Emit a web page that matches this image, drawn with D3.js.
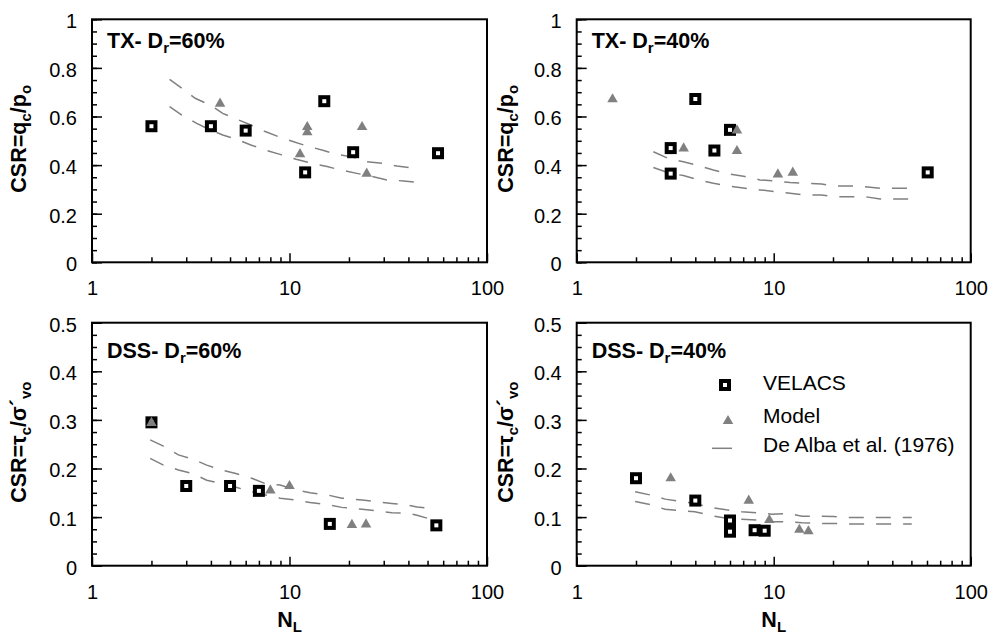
<!DOCTYPE html>
<html>
<head>
<meta charset="utf-8">
<script src="https://cdn.jsdelivr.net/npm/d3@7"></script>
<style>
  html, body { margin: 0; padding: 0; background: #fff; }
  svg { display: block; font-family: "Liberation Sans", Arial, sans-serif; }
</style>
</head>
<body>
<svg id="chart" width="989" height="635"></svg>
<script>
// ---------------- DATA ----------------
// Panel A: TX, Dr = 60%
const txA_velacsN   = [2, 4, 6, 12, 15, 21, 56.5];
const txA_velacsCSR = [0.56, 0.56, 0.542, 0.37, 0.663, 0.453, 0.449];
const txA_modelN    = [4.45, 11.3, 12.3, 12.3, 23.3, 24.6];
const txA_modelCSR  = [0.657, 0.449, 0.561, 0.539, 0.561, 0.369];
const txA_upperN    = [2.47, 2.85, 3.33, 3.96, 4.59, 5.45, 6.37, 7.53, 8.8, 10.4, 12.2, 14.9, 17.4, 21.1, 24.6, 29.9, 35.0, 43.3];
const txA_upperCSR  = [0.753, 0.716, 0.675, 0.647, 0.613, 0.588, 0.565, 0.538, 0.517, 0.497, 0.479, 0.46, 0.444, 0.432, 0.414, 0.407, 0.396, 0.387];
const txA_lowerN    = [2.47, 2.85, 3.39, 3.96, 4.59, 5.52, 6.37, 7.68, 9.14, 10.8, 13.0, 15.5, 18.1, 21.9, 25.6, 31.1, 37.8, 45.1];
const txA_lowerCSR  = [0.641, 0.606, 0.572, 0.545, 0.524, 0.503, 0.483, 0.46, 0.442, 0.424, 0.407, 0.394, 0.38, 0.366, 0.355, 0.339, 0.335, 0.328];

// Panel B: TX, Dr = 40%
const txB_velacsN   = [3, 3, 4, 5, 6, 60.5];
const txB_velacsCSR = [0.47, 0.365, 0.672, 0.46, 0.545, 0.37];
const txB_modelN    = [1.52, 3.49, 6.51, 6.51, 10.5, 12.5];
const txB_modelCSR  = [0.675, 0.473, 0.547, 0.462, 0.366, 0.373];
const txB_upperN    = [2.45, 2.98, 3.48, 4.15, 4.94, 5.89, 7.15, 8.52, 10.2, 12.1, 14.4, 17.5, 20.5, 24.9, 29.1, 34.7, 42.1, 50.2];
const txB_upperCSR  = [0.455, 0.424, 0.414, 0.398, 0.38, 0.364, 0.353, 0.339, 0.335, 0.328, 0.325, 0.322, 0.314, 0.314, 0.311, 0.305, 0.305, 0.305];
const txB_lowerN    = [2.45, 2.98, 3.48, 4.15, 4.94, 5.89, 7.15, 8.52, 10.2, 12.1, 14.4, 17.5, 20.5, 24.9, 29.1, 34.7, 42.1, 50.2];
const txB_lowerCSR  = [0.39, 0.366, 0.357, 0.339, 0.325, 0.314, 0.305, 0.298, 0.291, 0.284, 0.277, 0.277, 0.27, 0.27, 0.27, 0.261, 0.261, 0.261];

// Panel C: DSS, Dr = 60%
const dssC_velacsN   = [2, 3, 5, 7, 16, 55.4];
const dssC_velacsCSR = [0.295, 0.164, 0.164, 0.154, 0.086, 0.083];
const dssC_modelN    = [2, 8, 10, 20.7, 24.4];
const dssC_modelCSR  = [0.296, 0.157, 0.166, 0.086, 0.087];
const dssC_upperN    = [1.97, 2.3, 2.74, 3.26, 3.81, 4.54, 5.41, 6.44, 7.53, 8.97, 10.7, 12.7, 15.8, 18.4, 23.3, 27.2, 33.0, 39.3, 44.2, 50.6];
const dssC_upperCSR  = [0.259, 0.246, 0.228, 0.219, 0.207, 0.197, 0.189, 0.18, 0.169, 0.166, 0.156, 0.15, 0.145, 0.139, 0.135, 0.132, 0.128, 0.125, 0.121, 0.118];
const dssC_lowerN    = [1.97, 2.3, 2.74, 3.26, 3.81, 4.54, 5.41, 6.44, 7.68, 8.97, 10.7, 12.7, 15.8, 18.4, 23.3, 27.2, 33.0, 39.3, 44.2, 50.6];
const dssC_lowerCSR  = [0.221, 0.207, 0.197, 0.189, 0.176, 0.169, 0.161, 0.152, 0.145, 0.139, 0.135, 0.13, 0.125, 0.12, 0.116, 0.113, 0.109, 0.108, 0.104, 0.097];

// Panel D: DSS, Dr = 40%
const dssD_velacsN   = [2, 4, 6, 6, 8, 9];
const dssD_velacsCSR = [0.18, 0.134, 0.093, 0.07, 0.073, 0.072];
const dssD_modelN    = [3, 7.47, 9.5, 13.5, 15.0];
const dssD_modelCSR  = [0.182, 0.136, 0.096, 0.076, 0.073];
const dssD_upperN    = [1.98, 2.4, 2.81, 3.41, 3.98, 4.75, 5.73, 6.88, 8.2, 9.77, 11.9, 13.9, 16.8, 20.1, 24.4, 29.0, 34.7, 42.1, 50.2];
const dssD_upperCSR  = [0.152, 0.145, 0.137, 0.132, 0.128, 0.12, 0.115, 0.111, 0.109, 0.106, 0.107, 0.102, 0.102, 0.101, 0.099, 0.099, 0.099, 0.099, 0.099];
const dssD_lowerN    = [1.98, 2.4, 2.81, 3.41, 3.98, 4.84, 5.77, 6.88, 8.2, 9.77, 11.9, 13.9, 16.8, 20.1, 24.4, 29.0, 34.7, 42.1, 50.2];
const dssD_lowerCSR  = [0.132, 0.125, 0.116, 0.113, 0.111, 0.103, 0.0975, 0.0955, 0.094, 0.0905, 0.0905, 0.0885, 0.087, 0.087, 0.086, 0.086, 0.086, 0.086, 0.086];

// Tick labels
const xTickValues = [1, 10, 100];
const xMinorValues = [2, 3, 4, 5, 6, 7, 8, 9, 20, 30, 40, 50, 60, 70, 80, 90];
const txYTicks = [0, 0.2, 0.4, 0.6, 0.8, 1];
const dssYTicks = [0, 0.1, 0.2, 0.3, 0.4, 0.5];

// Legend
const legendLabels = ["VELACS", "Model", "De Alba et al. (1976)"];

// ---------------- DRAWING ----------------
const svg = d3.select("#chart");
const GRAY = "#808080";
const FONT = "Liberation Sans, Arial, sans-serif";

const panels = [
  { left: 92, right: 487, top: 19.3, bottom: 262.3, ymax: 1, yMajor: txYTicks, yStep: 0.05,
    fmt: d => d === 0 || d === 1 ? String(d) : d.toFixed(1),
    vN: txA_velacsN, vC: txA_velacsCSR, mN: txA_modelN, mC: txA_modelCSR,
    curves: [[txA_upperN, txA_upperCSR], [txA_lowerN, txA_lowerCSR]],
    title: ["TX- D", "r", "=60%"], titleX: 107, titleY: 47.7, ylab: "tx", ylabX: 26, xlab: false },
  { left: 576.7, right: 970.7, top: 19.3, bottom: 262.3, ymax: 1, yMajor: txYTicks, yStep: 0.05,
    fmt: d => d === 0 || d === 1 ? String(d) : d.toFixed(1),
    vN: txB_velacsN, vC: txB_velacsCSR, mN: txB_modelN, mC: txB_modelCSR,
    curves: [[txB_upperN, txB_upperCSR], [txB_lowerN, txB_lowerCSR]],
    title: ["TX- D", "r", "=40%"], titleX: 591.7, titleY: 47.7, ylab: "tx", ylabX: 513, xlab: false },
  { left: 92, right: 487, top: 322.7, bottom: 565.7, ymax: 0.5, yMajor: dssYTicks, yStep: 0.025,
    fmt: d => d === 0 ? "0" : d.toFixed(1),
    vN: dssC_velacsN, vC: dssC_velacsCSR, mN: dssC_modelN, mC: dssC_modelCSR,
    curves: [[dssC_upperN, dssC_upperCSR], [dssC_lowerN, dssC_lowerCSR]],
    title: ["DSS- D", "r", "=60%"], titleX: 107, titleY: 357.5, ylab: "dss", ylabX: 26, xlab: true },
  { left: 576.7, right: 970.7, top: 322.7, bottom: 565.7, ymax: 0.5, yMajor: dssYTicks, yStep: 0.025,
    fmt: d => d === 0 ? "0" : d.toFixed(1),
    vN: dssD_velacsN, vC: dssD_velacsCSR, mN: dssD_modelN, mC: dssD_modelCSR,
    curves: [[dssD_upperN, dssD_upperCSR], [dssD_lowerN, dssD_lowerCSR]],
    title: ["DSS- D", "r", "=40%"], titleX: 591.7, titleY: 358, ylab: "dss", ylabX: 513, xlab: true, legend: true }
];

const triangle = d3.symbol().type(d3.symbolTriangle).size(48);

panels.forEach(p => {
  const x = d3.scaleLog().domain([1, 100]).range([p.left, p.right]);
  const y = d3.scaleLinear().domain([0, p.ymax]).range([p.bottom, p.top]);
  const g = svg.append("g");

  // minor y ticks
  const nMinor = Math.round(p.ymax / p.yStep);
  const yMinor = d3.range(0, nMinor + 1).map(i => +(i * p.yStep).toFixed(4));
  const yMinorAxis = d3.axisLeft(y).tickValues(yMinor).tickSize(-5).tickFormat("");
  g.append("g").attr("transform", `translate(${p.left},0)`).call(yMinorAxis)
    .call(a => a.select(".domain").remove())
    .call(a => a.selectAll("line").attr("stroke", "#000").attr("stroke-width", 1.5));

  // major y ticks + labels
  const yAxis = d3.axisLeft(y).tickValues(p.yMajor).tickSize(-10).tickPadding(15).tickFormat(p.fmt);
  g.append("g").attr("transform", `translate(${p.left},0)`).call(yAxis)
    .call(a => a.select(".domain").remove())
    .call(a => a.selectAll("line").attr("stroke", "#000").attr("stroke-width", 1.5))
    .call(a => a.selectAll("text").attr("font-size", 20).attr("fill", "#000")
      .attr("font-family", FONT).attr("dy", "0.42em"));

  // minor x ticks
  const xMinorAxis = d3.axisBottom(x).tickValues(xMinorValues).tickSize(-5).tickFormat("");
  g.append("g").attr("transform", `translate(0,${p.bottom})`).call(xMinorAxis)
    .call(a => a.select(".domain").remove())
    .call(a => a.selectAll("line").attr("stroke", "#000").attr("stroke-width", 1.5));

  // major x ticks + labels
  const xAxis = d3.axisBottom(x).tickValues(xTickValues).tickSize(-9).tickPadding(19).tickFormat(d3.format("d"));
  g.append("g").attr("transform", `translate(0,${p.bottom})`).call(xAxis)
    .call(a => a.select(".domain").remove())
    .call(a => a.selectAll("line").attr("stroke", "#000").attr("stroke-width", 1.5))
    .call(a => a.selectAll("text").attr("font-size", 20).attr("fill", "#000")
      .attr("font-family", FONT));

  // frame
  g.append("rect").attr("x", p.left).attr("y", p.top)
    .attr("width", p.right - p.left).attr("height", p.bottom - p.top)
    .attr("fill", "none").attr("stroke", "#000").attr("stroke-width", 2);

  // De Alba curves
  const line = d3.line().x(d => x(d[0])).y(d => y(d[1]));
  p.curves.forEach(([ns, cs]) => {
    g.append("path").datum(ns.map((n, i) => [n, cs[i]]))
      .attr("d", line).attr("fill", "none").attr("stroke", GRAY)
      .attr("stroke-width", 1.5).attr("stroke-dasharray", "15,12");
  });

  // VELACS squares
  g.selectAll(".sq").data(p.vN.map((n, i) => [n, p.vC[i]])).enter().append("rect")
    .attr("x", d => x(d[0]) - 4).attr("y", d => y(d[1]) - 4)
    .attr("width", 8).attr("height", 8)
    .attr("fill", "#fff").attr("stroke", "#000").attr("stroke-width", 4);

  // Model triangles
  g.selectAll(".tri").data(p.mN.map((n, i) => [n, p.mC[i]])).enter().append("path")
    .attr("d", triangle)
    .attr("transform", d => `translate(${x(d[0])},${y(d[1]) + 1})`)
    .attr("fill", GRAY);

  // title
  const t = g.append("text").attr("x", p.titleX).attr("y", p.titleY)
    .attr("font-size", 21.5).attr("font-weight", "bold").attr("fill", "#000");
  t.append("tspan").text(p.title[0]);
  t.append("tspan").attr("dy", 5).attr("font-size", 15).text(p.title[1]);
  t.append("tspan").attr("dy", -5).text(p.title[2]);

  // y label
  const cy = (p.top + p.bottom) / 2 - 2;
  const yl = g.append("text").attr("transform", `translate(${p.ylabX},${cy}) rotate(-90)`)
    .attr("text-anchor", "middle").attr("font-size", 21.5).attr("font-weight", "bold").attr("fill", "#000");
  if (p.ylab === "tx") {
    yl.append("tspan").text("CSR=q");
    yl.append("tspan").attr("dy", 5).attr("font-size", 15).text("c");
    yl.append("tspan").attr("dy", -5).text("/p");
    yl.append("tspan").attr("dy", 5).attr("font-size", 15).text("o");
  } else {
    yl.append("tspan").text("CSR=τ");
    yl.append("tspan").attr("dy", 5).attr("font-size", 15).text("c");
    yl.append("tspan").attr("dy", -5).text("/σ´");
    yl.append("tspan").attr("dy", 5).attr("font-size", 15).text("vo");
  }

  // x label
  if (p.xlab) {
    const xl = g.append("text").attr("x", (p.left + p.right) / 2).attr("y", 626.7)
      .attr("text-anchor", "middle").attr("font-size", 21.5).attr("font-weight", "bold").attr("fill", "#000");
    xl.append("tspan").text("N");
    xl.append("tspan").attr("dy", 5).attr("font-size", 15).text("L");
  }

  // legend
  if (p.legend) {
    const lg = g.append("g");
    lg.append("rect").attr("x", 725 - 4).attr("y", 385 - 4).attr("width", 8).attr("height", 8)
      .attr("fill", "#fff").attr("stroke", "#000").attr("stroke-width", 4);
    lg.append("path").attr("d", triangle).attr("transform", "translate(728,421)").attr("fill", GRAY);
    lg.append("line").attr("x1", 712).attr("x2", 732).attr("y1", 448.3).attr("y2", 448.3)
      .attr("stroke", GRAY).attr("stroke-width", 1.5);
    const ys = [390, 423.3, 451.7];
    legendLabels.forEach((s, i) => {
      lg.append("text").attr("x", 763).attr("y", ys[i]).attr("font-size", 21).attr("fill", "#000").text(s);
    });
  }
});
</script>
</body>
</html>
